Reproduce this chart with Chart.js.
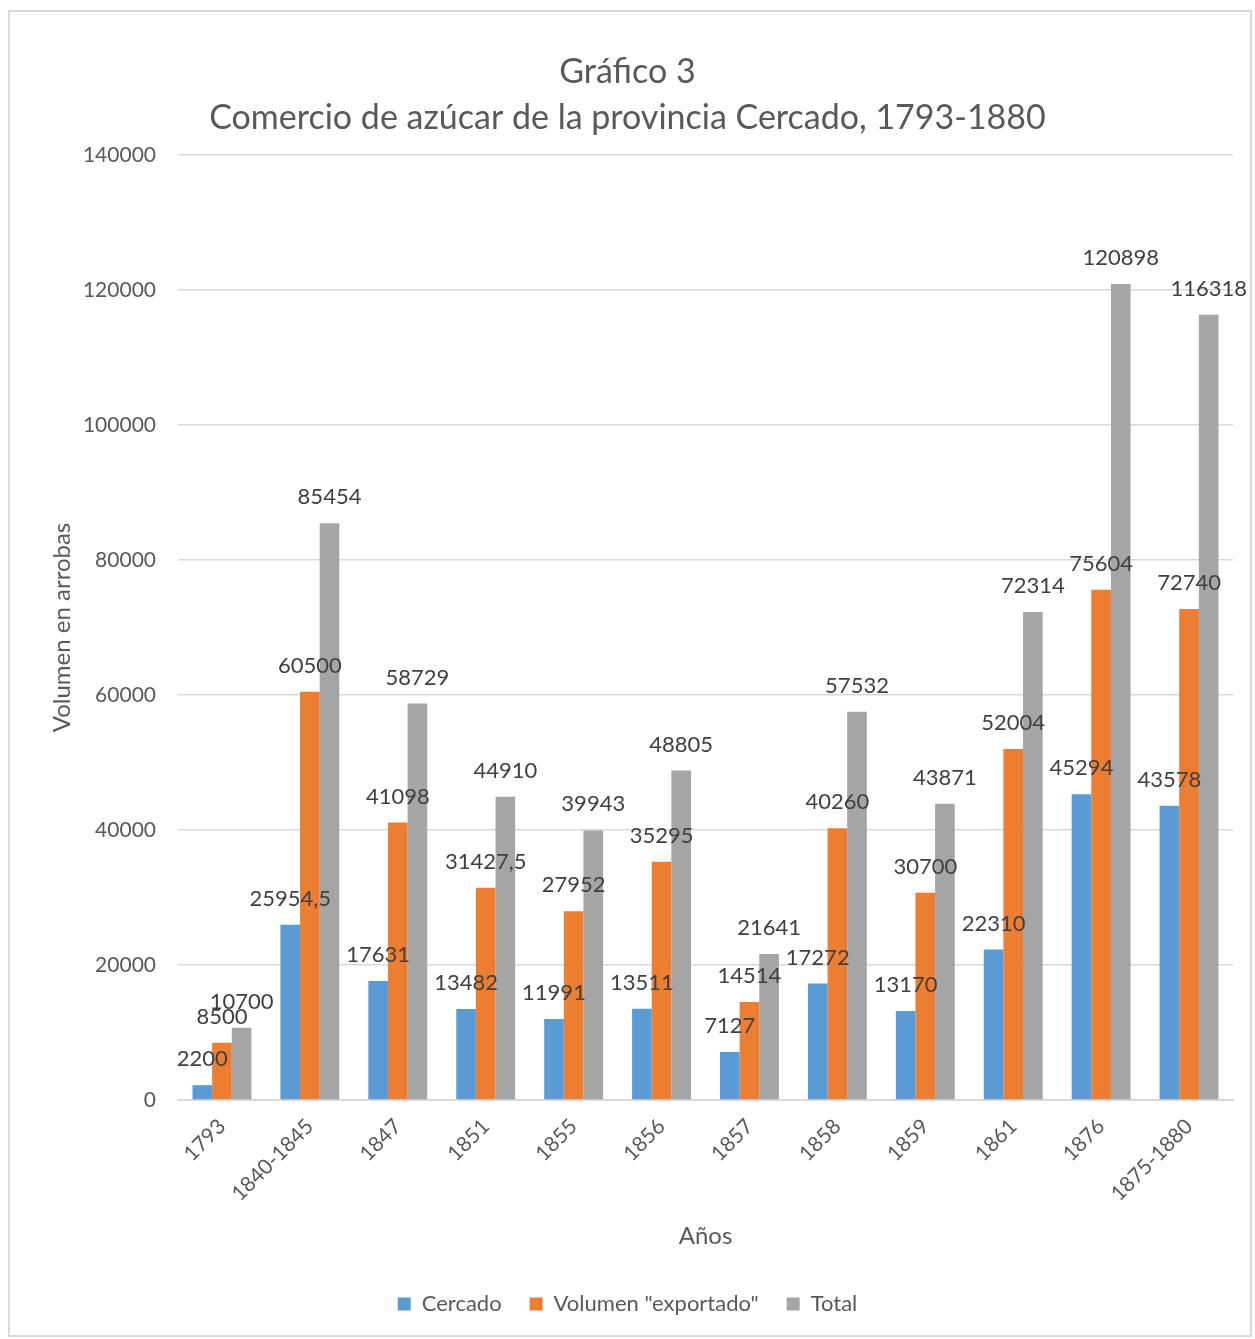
<!DOCTYPE html>
<html>
<head>
<meta charset="utf-8">
<script src="https://cdn.jsdelivr.net/npm/chart.js@4.4.1/dist/chart.umd.min.js"></script>
<style>
  html, body { margin: 0; padding: 0; background: #ffffff; }
  #wrap { position: relative; width: 1255px; height: 1339px; }
  #frame { position: absolute; left: 8px; top: 10px; width: 1240px; height: 1323px; border: 2px solid #d9d9d9; }
  #grafico { position: absolute; left: 0; top: 0; }
</style>
</head>
<body>
<div id="wrap">
  <div id="frame"></div>
  <canvas id="grafico" width="1255" height="1339"></canvas>
</div>
<script>
const anios = ['1793', '1840-1845', '1847', '1851', '1855', '1856', '1857', '1858', '1859', '1861', '1876', '1875-1880'];
const cercado = [2200, 25954.5, 17631, 13482, 11991, 13511, 7127, 17272, 13170, 22310, 45294, 43578];
const exportado = [8500, 60500, 41098, 31427.5, 27952, 35295, 14514, 40260, 30700, 52004, 75604, 72740];
const total = [10700, 85454, 58729, 44910, 39943, 48805, 21641, 57532, 43871, 72314, 120898, 116318];

const fuente = 'Lato';
const gris = '#595959';

// etiquetas de datos encima de cada barra
const etiquetas = {
  id: 'etiquetas',
  afterDatasetsDraw(chart) {
    const c = chart.ctx;
    c.save();
    c.font = '22px ' + fuente;
    c.fillStyle = '#404040';
    c.textAlign = 'center';
    c.textBaseline = 'middle';
    chart.data.datasets.forEach((ds, i) => {
      chart.getDatasetMeta(i).data.forEach((bar, j) => {
        const txt = String(ds.data[j]).replace('.', ',');
        c.fillText(txt, bar.x, bar.y - 26);
      });
    });
    c.restore();
  }
};

new Chart(document.getElementById('grafico'), {
  type: 'bar',
  data: {
    labels: anios,
    datasets: [
      { label: 'Cercado', data: cercado, backgroundColor: '#5b9bd5' },
      { label: 'Volumen "exportado"', data: exportado, backgroundColor: '#ed7d31' },
      { label: 'Total', data: total, backgroundColor: '#a5a5a5' }
    ]
  },
  options: {
    responsive: false,
    animation: false,
    devicePixelRatio: 1,
    layout: { padding: { top: 20, left: 22, right: 22, bottom: 14 } },
    datasets: { bar: { categoryPercentage: 0.67, barPercentage: 1 } },
    scales: {
      x: {
        grid: { display: false },
        border: { color: '#d9d9d9', width: 2 },
        ticks: { color: gris, font: { family: fuente, size: 21 }, maxRotation: 45, minRotation: 45, padding: 6 },
        title: { display: true, text: 'Años', color: gris, font: { family: fuente, size: 24 }, padding: { top: 0, bottom: 14 } },
        afterFit(s) { s.height = 165; }
      },
      y: {
        min: 0,
        max: 140000,
        ticks: { stepSize: 20000, color: gris, font: { family: fuente, size: 21 }, padding: 22, callback: v => String(v) },
        grid: { color: '#d9d9d9', lineWidth: 1.5, drawTicks: false },
        border: { display: false },
        title: { display: true, text: 'Volumen en arrobas', color: gris, font: { family: fuente, size: 24 }, padding: { top: 26, bottom: 0 } },
        afterFit(s) { s.width = 156; }
      }
    },
    plugins: {
      title: {
        display: true,
        text: ['Gráfico 3', 'Comercio de azúcar de la provincia Cercado, 1793-1880'],
        color: gris,
        font: { family: fuente, size: 34, weight: 'normal', lineHeight: 1.353 },
        padding: { top: 29, bottom: 14 }
      },
      legend: {
        position: 'bottom',
        labels: { color: gris, font: { family: fuente, size: 22 }, boxWidth: 13, boxHeight: 13, padding: 28 }
      },
      tooltip: { enabled: false }
    }
  },
  plugins: [etiquetas]
});
</script>
</body>
</html>
